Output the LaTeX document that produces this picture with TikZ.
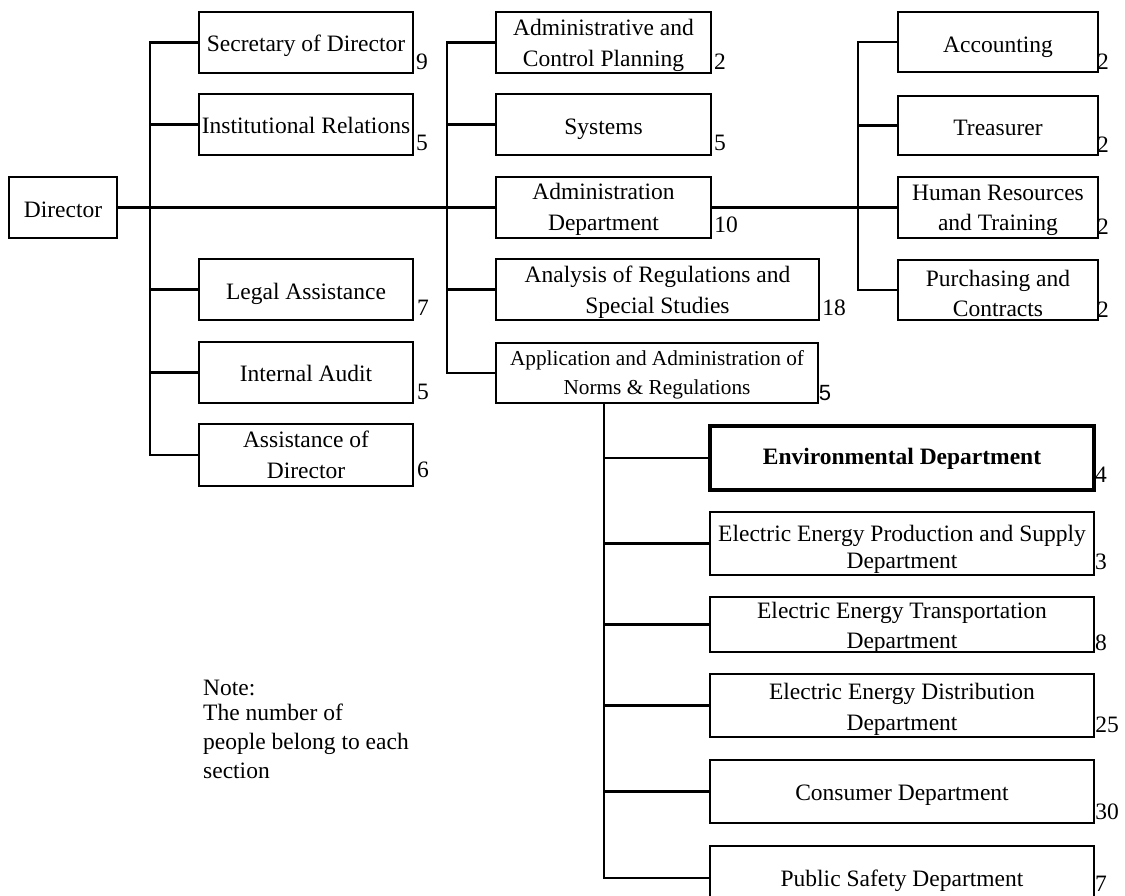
\documentclass[tikz,border=0pt]{standalone}
\usepackage{fontspec}
\setmainfont{Liberation Serif}
\newfontfamily\numsans{Liberation Sans}
\begin{document}
\begin{tikzpicture}[x=1pt,y=-1pt,
  box/.style={draw, line width=2.6pt, rectangle, inner sep=0pt},
  thickbox/.style={box, line width=4.5pt},
  btext/.style={inner sep=0pt, align=center, font=\fontsize{23.5}{31}\selectfont},
  num/.style={inner sep=0pt, font=\fontsize{23.5}{28}\selectfont},
  conn/.style={line width=2.4pt},
  note/.style={inner sep=0pt, align=left, font=\fontsize{23.5}{30}\selectfont}]
\clip (0,0) rectangle (1125,896);
\fill[white] (0,0) rectangle (1125,896);

% trunk x positions
\coordinate (lt) at (150,0);
\coordinate (mt) at (447,0);
\coordinate (rt) at (858,0);
\coordinate (bt) at (604,0);

% root
\node[box, minimum width=108pt, minimum height=61pt,
  label={[btext, yshift=-2pt]center:Director}] (dir) at (63,207.5) {};

% left column
\node[box, minimum width=214pt, minimum height=61pt,
  label={[btext, yshift=-3pt]center:Secretary of Director}] (sec) at (306,42.5) {};
\node[box, minimum width=214pt, minimum height=61pt,
  label={[btext, yshift=-1pt]center:Institutional Relations}] (inst) at (306,124.5) {};
\node[box, minimum width=214pt, minimum height=61pt,
  label={[btext, yshift=-4pt]center:Legal Assistance}] (leg) at (306,289.5) {};
\node[box, minimum width=214pt, minimum height=61pt,
  label={[btext, yshift=-1pt]center:Internal Audit}] (aud) at (306,372.5) {};
\node[box, minimum width=214pt, minimum height=62pt,
  label={[btext]center:Assistance of\\Director}] (asd) at (306,455) {};

% middle column
\node[box, minimum width=215pt, minimum height=61pt,
  label={[btext, yshift=-3pt]center:Administrative and\\Control Planning}] (adc) at (603.5,42.5) {};
\node[box, minimum width=215pt, minimum height=61pt,
  label={[btext, yshift=-5pt]center:Systems}] (sys) at (603.5,124.5) {};
\node[box, minimum width=215pt, minimum height=61pt,
  label={[btext, yshift=-2pt]center:Administration\\Department}] (admd) at (603.5,207.5) {};
\node[box, minimum width=323pt, minimum height=61pt,
  label={[btext, yshift=-3pt]center:Analysis of Regulations and\\Special Studies}] (ana) at (657.5,289.5) {};
\node[box, minimum width=322pt, minimum height=60pt,
  label={[btext, font=\fontsize{21.3}{29}\selectfont, yshift=-2pt]center:Application and Administration of\\Norms \& Regulations}] (app) at (657,373) {};

% right column
\node[box, minimum width=200pt, minimum height=60pt,
  label={[btext, yshift=-5pt]center:Accounting}] (acc) at (998,42) {};
\node[box, minimum width=200pt, minimum height=59pt,
  label={[btext, yshift=-2pt]center:Treasurer}] (tre) at (998,125.5) {};
\node[box, minimum width=200pt, minimum height=61pt,
  label={[btext, font=\fontsize{23.5}{30}\selectfont, yshift=-3pt]center:Human Resources\\and Training}] (hr) at (998,207.5) {};
\node[box, minimum width=200pt, minimum height=60pt,
  label={[btext, font=\fontsize{23.5}{30}\selectfont, yshift=-3pt]center:Purchasing and\\Contracts}] (pur) at (998,290) {};

% lower column
\node[thickbox, minimum width=384pt, minimum height=64pt,
  label={[btext, font=\fontsize{23.5}{31}\selectfont\bfseries, yshift=-1pt]center:Environmental Department}] (env) at (902,458) {};
\node[box, minimum width=384pt, minimum height=63pt,
  label={[btext, font=\fontsize{23.5}{27}\selectfont, yshift=-6pt]center:Electric Energy Production and Supply\\Department}] (prod) at (902,543.5) {};
\node[box, minimum width=384pt, minimum height=55pt,
  label={[btext, font=\fontsize{23.5}{30}\selectfont, yshift=-3pt]center:Electric Energy Transportation\\Department}] (trn) at (902,624.5) {};
\node[box, minimum width=384pt, minimum height=63pt,
  label={[btext, yshift=-3.5pt]center:Electric Energy Distribution\\Department}] (dis) at (902,705.5) {};
\node[box, minimum width=384pt, minimum height=63pt,
  label={[btext, yshift=-4pt]center:Consumer Department}] (con) at (902,791.5) {};
\node[box, minimum width=384pt, minimum height=64pt,
  label={[btext, yshift=-3pt]center:Public Safety Department}] (saf) at (902,878) {};

% numbers
\node[num] (n1) at (422,62) {9};
\node[num] (n2) at (422,143) {5};
\node[num] (n3) at (423,308) {7};
\node[num] (n4) at (423,392) {5};
\node[num] (n5) at (423,470) {6};
\node[num] (n6) at (720,62) {2};
\node[num] (n7) at (720,143) {5};
\node[num] (n8) at (726,225) {10};
\node[num] (n9) at (834,308) {18};
\node[num, font=\fontsize{22}{26}\selectfont\numsans] (n10) at (825,393) {5};
\node[num] (n11) at (1103,62) {2};
\node[num] (n12) at (1103,145) {2};
\node[num] (n13) at (1103,227) {2};
\node[num] (n14) at (1103,310) {2};
\node[num] (n15) at (1101,475) {4};
\node[num] (n16) at (1101,562) {3};
\node[num] (n17) at (1101,643) {8};
\node[num] (n18) at (1107,725) {25};
\node[num] (n19) at (1107,812) {30};
\node[num] (n20) at (1101,884) {7};

% note
\node[note, anchor=base west] (notetitle) at (203,695) {Note:};
\node[note, anchor=base west] (notebody) at (203,720) {The number of};
\node[note, anchor=base west] (notebody2) at (203,749) {people belong to each};
\node[note, anchor=base west] (notebody3) at (203,778) {section};

% connectors: main line
\draw[conn] (dir.east) -- (admd.west);
\draw[conn] (admd.east) -- (hr.west);

% left trunk
\draw[conn] (sec.west) -- (sec.west -| lt) -- (asd.west -| lt) -- (asd.west);
\draw[conn] (inst.west) -- (inst.west -| lt);
\draw[conn] (leg.west) -- (leg.west -| lt);
\draw[conn] (aud.west) -- (aud.west -| lt);

% middle trunk
\draw[conn] (adc.west) -- (adc.west -| mt) -- (app.west -| mt) -- (app.west);
\draw[conn] (sys.west) -- (sys.west -| mt);
\draw[conn] (ana.west) -- (ana.west -| mt);

% right trunk
\draw[conn] (acc.west) -- (acc.west -| rt) -- (pur.west -| rt) -- (pur.west);
\draw[conn] (tre.west) -- (tre.west -| rt);

% lower trunk
\draw[conn] (app.south -| bt) -- (saf.west -| bt) -- (saf.west);
\draw[conn] (env.west) -- (env.west -| bt);
\draw[conn] (prod.west) -- (prod.west -| bt);
\draw[conn] (trn.west) -- (trn.west -| bt);
\draw[conn] (dis.west) -- (dis.west -| bt);
\draw[conn] (con.west) -- (con.west -| bt);
\end{tikzpicture}
\end{document}
